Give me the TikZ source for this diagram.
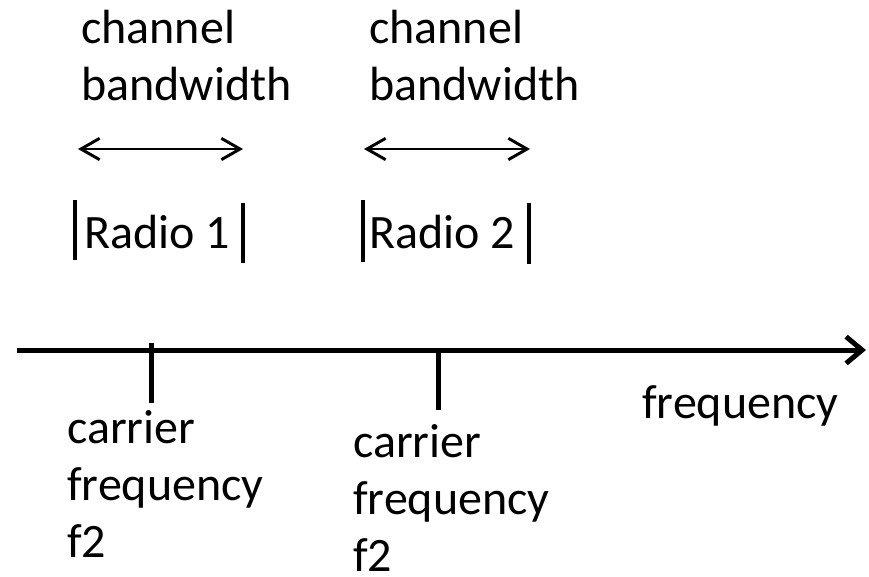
\documentclass[tikz,border=0pt]{standalone}
\usepackage{fontspec}
\setmainfont{Carlito}
\usetikzlibrary{arrows.meta, positioning}

\tikzset{
  lbl/.style={inner sep=0pt, align=left, font=\fontsize{36}{42.75}\selectfont},
  bar/.style={line width=3pt},
  tick/.style={line width=3.75pt},
  span/.style={{Straight Barb[length=14pt,width=16pt]}-{Straight Barb[length=14pt,width=16pt]}, line width=2.2pt}
}

\begin{document}
\begin{tikzpicture}[x=0.75pt, y=-0.75pt]
        \useasboundingbox (0,0) rectangle (869,576);

        % frequency axis
        \coordinate (A0) at (17,350);
        \coordinate (A1) at (866,350);
        \draw[line width=3.75pt, -{Straight Barb[length=12pt,width=20pt]}] (A0) -- (A1);
        \node[lbl, anchor=base west] (freq) at (642,418) {frequency};

        % carrier ticks (base of a multi-line node = its last line)
        \coordinate (T1a) at (151,343);
        \coordinate (T1b) at (151,403);
        \coordinate (T2a) at (438,350);
        \coordinate (T2b) at (438,410);
        \draw[tick] (T1a) -- (T1b);
        \draw[tick] (T2a) -- (T2b);
        \node[lbl, anchor=base west] (C1) at (67,557) {carrier\\frequency\\f2};
        \node[lbl, anchor=base west] (C2) at (353,571) {carrier\\frequency\\f2};

        % radios
        \node[lbl, anchor=base west] (R1) at (84,248) {Radio 1};
        \node[lbl, anchor=base west] (R2) at (369,248) {Radio 2};
        \coordinate (R1l) at (75,200);  \coordinate (R1r) at (243,203);
        \coordinate (R2l) at (363,200); \coordinate (R2r) at (529,203);
        \draw[bar] (R1l) -- ++(0,60);
        \draw[bar] (R1r) -- ++(0,60);
        \draw[bar] (R2l) -- ++(0,62);
        \draw[bar] (R2r) -- ++(0,61);

        % channel bandwidth
        \coordinate (B1l) at (78,149);  \coordinate (B1r) at (243,149);
        \coordinate (B2l) at (364,149); \coordinate (B2r) at (530,149);
        \draw[span] (B1l) -- (B1r);
        \draw[span] (B2l) -- (B2r);
        \node[lbl, anchor=base west] (W1) at (81,100) {channel\\bandwidth};
        \node[lbl, anchor=base west] (W2) at (369,100) {channel\\bandwidth};
\end{tikzpicture}
\end{document}
